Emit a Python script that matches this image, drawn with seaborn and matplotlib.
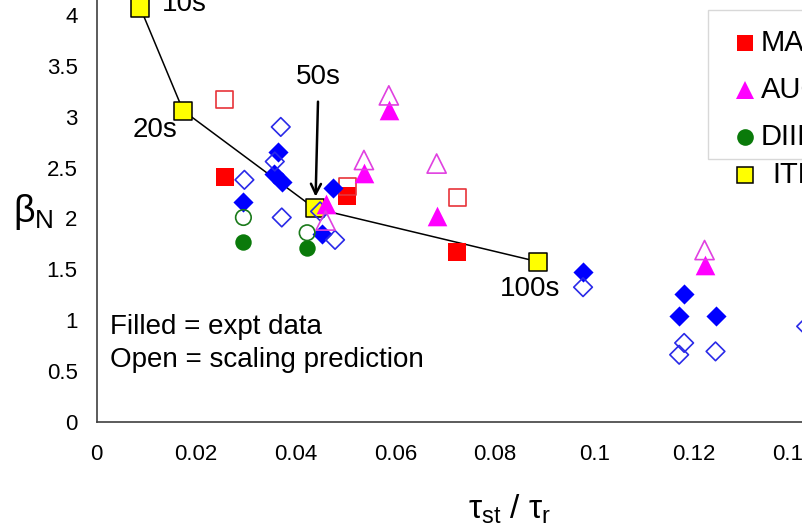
import matplotlib
matplotlib.use("Agg")
import matplotlib.pyplot as plt
import seaborn as sns
from matplotlib.lines import Line2D
from matplotlib.patches import Rectangle

# ---------------- data ----------------
iter_x = [0.0088, 0.0174, 0.0438, 0.0886]
iter_y = [4.07, 3.06, 2.10, 1.576]
iter_labels = ["10s", "20s", "50s", "100s"]

mast_x = [0.0258, 0.0504, 0.0724]
mast_y_expt = [2.41, 2.22, 1.67]
mast_y_pred = [3.17, 2.31, 2.21]

aug_x = [0.0460, 0.0537, 0.0587, 0.0683, 0.1221]
aug_y_expt = [2.14, 2.45, 3.07, 2.02, 1.54]
aug_y_pred = [1.98, 2.575, 3.21, 2.54, 1.69]

diii_x = [0.0295, 0.0423]
diii_y_expt = [1.77, 1.71]
diii_y_pred = [2.01, 1.86]

other_x_expt = [0.0295, 0.0357, 0.0365, 0.0373, 0.0452, 0.0475, 0.0977, 0.1170, 0.1180, 0.1243]
other_y_expt = [2.16, 2.44, 2.65, 2.36, 1.85, 2.30, 1.473, 1.043, 1.258, 1.043]
other_x_pred = [0.0297, 0.0358, 0.0370, 0.0372, 0.0449, 0.0479, 0.0977, 0.1170, 0.1180, 0.1243, 0.1425]
other_y_pred = [2.38, 2.56, 2.90, 2.01, 2.07, 1.79, 1.325, 0.661, 0.777, 0.694, 0.94]

xticks = [0, 0.02, 0.04, 0.06, 0.08, 0.10, 0.12, 0.14]
xtick_labels = ["0", "0.02", "0.04", "0.06", "0.08", "0.1", "0.12", "0.14"]
yticks = [0, 0.5, 1, 1.5, 2, 2.5, 3, 3.5, 4]
ytick_labels = ["0", "0.5", "1", "1.5", "2", "2.5", "3", "3.5", "4"]

legend_names = ["MAST", "AUG", "DIII-D", "ITER"]

# ---------------- style ----------------
sns.set_theme(style="white")
plt.rcParams["font.family"] = ["Liberation Sans", "DejaVu Sans"]
plt.rcParams["mathtext.fontset"] = "custom"
plt.rcParams["mathtext.rm"] = "Liberation Sans"
plt.rcParams["mathtext.it"] = "Liberation Sans:italic"
plt.rcParams["text.color"] = "black"
plt.rcParams["axes.labelcolor"] = "black"

W, H = 802, 529
fig = plt.figure(figsize=(W / 100, H / 100), dpi=100)
ax_left, ax_bottom = 96.5 / W, (H - 422) / H
ax_w, ax_h = 0.90, 0.85
ax = fig.add_axes([ax_left, ax_bottom, ax_w, ax_h])
px_per_x = 4980.0
px_per_y = 101.75
ax.set_xlim(0, ax_w * W / px_per_x)
ax.set_ylim(0, ax_h * H / px_per_y)

# ITER line + points
sns.lineplot(x=iter_x, y=iter_y, sort=False, color="black", lw=1.1, ax=ax, zorder=2)
sns.scatterplot(x=iter_x, y=iter_y, marker="s", s=150, color="#ffff00",
                edgecolor="black", linewidth=1.1, ax=ax, zorder=3)

# MAST
sns.scatterplot(x=mast_x, y=mast_y_expt, marker="s", s=175, color="#ff0000",
                edgecolor="#ff0000", linewidth=0, ax=ax, zorder=4)
sns.scatterplot(x=mast_x, y=mast_y_pred, marker="s", s=150, color="#e8343a",
                facecolors="none", edgecolor="#e8343a", linewidth=1.2, ax=ax, zorder=4)

# other (blue diamonds)
sns.scatterplot(x=other_x_expt, y=other_y_expt, marker="D", s=105, color="#0000ff",
                edgecolor="#0000ff", linewidth=0, ax=ax, zorder=4)
sns.scatterplot(x=other_x_pred, y=other_y_pred, marker="D", s=90, color="#2a2ae8",
                facecolors="none", edgecolor="#2a2ae8", linewidth=1.2, ax=ax, zorder=5)

# AUG
sns.scatterplot(x=aug_x, y=aug_y_expt, marker="^", s=200, color="#ff00ff",
                edgecolor="#ff00ff", linewidth=0, ax=ax, zorder=5)
sns.scatterplot(x=aug_x, y=aug_y_pred, marker="^", s=190, color="#e040e0",
                facecolors="none", edgecolor="#e040e0", linewidth=1.2, ax=ax, zorder=5)

# DIII-D
sns.scatterplot(x=diii_x, y=diii_y_expt, marker="o", s=140, color="#0a7a0a",
                edgecolor="#0a7a0a", linewidth=0, ax=ax, zorder=5)
sns.scatterplot(x=diii_x, y=diii_y_pred, marker="o", s=125, color="#1a7a1a",
                facecolors="none", edgecolor="#1a7a1a", linewidth=1.2, ax=ax, zorder=5)

# ITER labels
lab_fs = 20
ax.text(0.0131, 4.04, iter_labels[0], fontsize=lab_fs, ha="left", va="baseline", zorder=6)
ax.text(0.0118, 2.87, iter_labels[1], fontsize=lab_fs, ha="center", va="center", zorder=6)
ax.text(0.0870, 1.31, iter_labels[3], fontsize=lab_fs, ha="center", va="center", zorder=6)
ax.annotate(iter_labels[2], xy=(0.0440, 2.215), xytext=(0.0446, 3.39),
            fontsize=lab_fs, ha="center", va="center", zorder=6,
            arrowprops=dict(arrowstyle="->", lw=1.8, color="black",
                            mutation_scale=18, shrinkA=6, shrinkB=0))

ax.text(0.0027, 0.77, "Filled = expt data\nOpen = scaling prediction",
        fontsize=20, ha="left", va="center", linespacing=1.33, zorder=6)

# axes styling
for side in ["top", "right"]:
    ax.spines[side].set_visible(False)
for side in ["left", "bottom"]:
    ax.spines[side].set_color("#404040")
    ax.spines[side].set_linewidth(1.2)
ax.set_xticks(xticks)
ax.set_xticklabels(xtick_labels)
ax.set_yticks(yticks)
ax.set_yticklabels(ytick_labels)
ax.tick_params(axis="both", direction="out", length=5.5, width=1, color="#404040",
               labelsize=16, labelcolor="black")
ax.tick_params(axis="y", pad=8)
ax.tick_params(axis="x", pad=10)

ax.set_xlabel("τ$_{\\mathrm{st}}$ / τ$_{\\mathrm{r}}$", fontsize=24)
ax.xaxis.set_label_coords((510 - 96.5) / (ax_w * W), -(493 - 422) / (ax_h * H))
ax.set_ylabel("β$_{\\mathrm{N}}$", fontsize=27, rotation=0, ha="center", va="center")
ax.yaxis.set_label_coords((33 - 96.5) / (ax_w * W), (422 - 212) / (ax_h * H))

# legend (manual, clipped at right edge like the reference)
fig.add_artist(Rectangle((708 / W, 1 - 159 / H), 0.2, (159 - 10) / H,
                         transform=fig.transFigure, facecolor="white",
                         edgecolor="#d8d8d8", lw=1, zorder=10))
leg_rows = [
    (legend_names[0], 43, "s", "#ff0000", "#ff0000", 12, 761),
    (legend_names[1], 90, "^", "#ff00ff", "#ff00ff", 13, 761),
    (legend_names[2], 137, "o", "#0a7a0a", "#0a7a0a", 12, 761),
    (legend_names[3], 175, "s", "#ffff00", "black", 11.5, 772),
]
for name, ypx, mk, fc, ec, ms, tx in leg_rows:
    fig.add_artist(Line2D([745 / W], [1 - ypx / H], marker=mk, markersize=ms,
                          markerfacecolor=fc, markeredgecolor=ec,
                          markeredgewidth=1.1 if ec == "black" else 0,
                          linestyle="none", transform=fig.transFigure, zorder=11))
    fig.text(tx / W, 1 - ypx / H, name, fontsize=21, ha="left", va="center", zorder=11)

fig.savefig("out.png", dpi=100)
